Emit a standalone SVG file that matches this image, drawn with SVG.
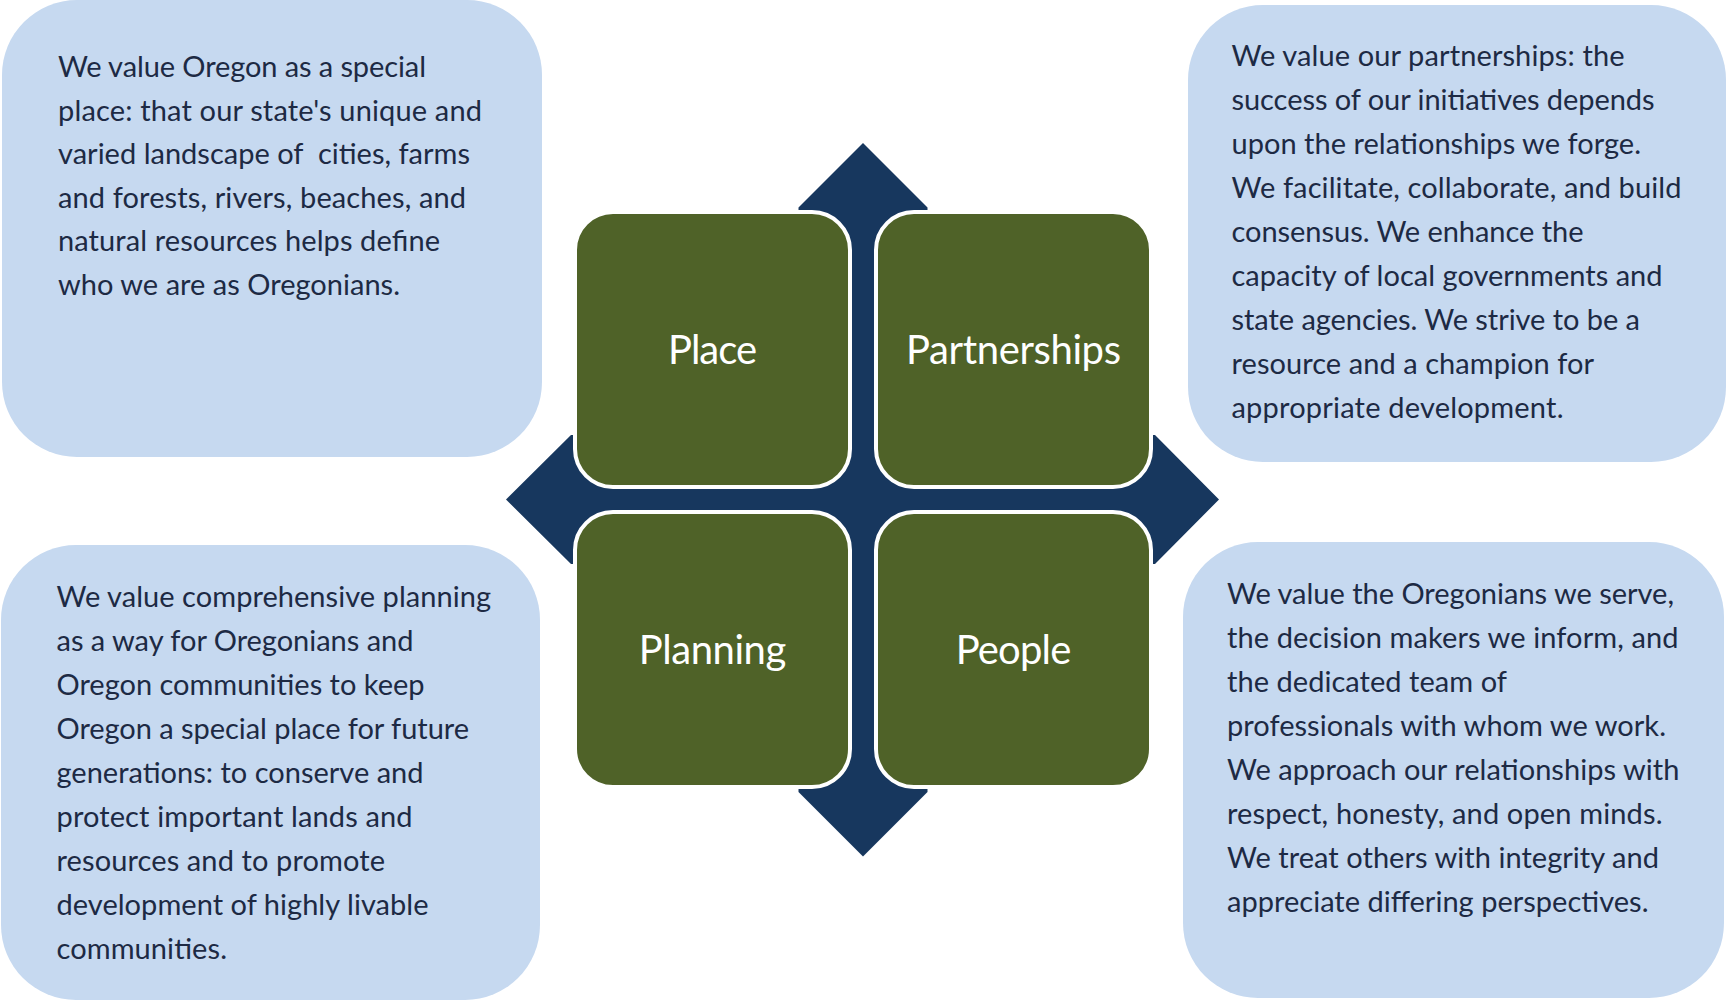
<svg xmlns="http://www.w3.org/2000/svg" width="1727" height="1002" viewBox="0 0 1727 1002">
<style>
.card{fill:#C6D9F0;}
.body{font-family:Lato,"Liberation Sans",sans-serif;font-size:29px;fill:#1d2a44;}
.tile{fill:#4F6228;stroke:#FFFFFF;stroke-width:4;}
.lbl{font-family:Lato,"Liberation Sans",sans-serif;font-size:40px;fill:#FFFFFF;text-anchor:middle;}
</style>
<rect width="1727" height="1002" fill="#FFFFFF"/>
<g id="connectors">
<polygon fill="#17375E" points="863,143 927.5,207.5 927.5,435 1155,435 1219,499.5 1155,564 927.5,564 927.5,792 863,856.5 798.5,792 798.5,564 571,564 506,499.5 571,435 798.5,435 798.5,207.5"/>
</g>
<g id="card-place">
<rect class="card" x="2" y="0" width="540" height="457" rx="75"/>
<text class="body" x="58" y="77" textLength="368">We value Oregon as a special</text>
<text class="body" x="58" y="120.5" textLength="424">place: that our state's unique and</text>
<text class="body" x="58" y="164" textLength="412" xml:space="preserve">varied landscape of  cities, farms</text>
<text class="body" x="58" y="207.5" textLength="408">and forests, rivers, beaches, and</text>
<text class="body" x="58" y="251" textLength="382">natural resources helps define</text>
<text class="body" x="58" y="294.5" textLength="342">who we are as Oregonians.</text>
</g>
<g id="card-partnerships">
<rect class="card" x="1188" y="5" width="538" height="457" rx="75"/>
<text class="body" x="1231.5" y="66" textLength="393">We value our partnerships: the</text>
<text class="body" x="1231.5" y="110" textLength="423">success of our initiatives depends</text>
<text class="body" x="1231.5" y="154" textLength="409.5">upon the relationships we forge.</text>
<text class="body" x="1231.5" y="198" textLength="450">We facilitate, collaborate, and build</text>
<text class="body" x="1231.5" y="242" textLength="352">consensus. We enhance the</text>
<text class="body" x="1231.5" y="286" textLength="431">capacity of local governments and</text>
<text class="body" x="1231.5" y="330" textLength="408.5">state agencies. We strive to be a</text>
<text class="body" x="1231.5" y="374" textLength="362.5">resource and a champion for</text>
<text class="body" x="1231.5" y="418" textLength="332">appropriate development.</text>
</g>
<g id="card-planning">
<rect class="card" x="1" y="545" width="539" height="455" rx="75"/>
<text class="body" x="56.5" y="607" textLength="434.5">We value comprehensive planning</text>
<text class="body" x="56.5" y="651" textLength="357">as a way for Oregonians and</text>
<text class="body" x="56.5" y="695" textLength="368">Oregon communities to keep</text>
<text class="body" x="56.5" y="739" textLength="412.5">Oregon a special place for future</text>
<text class="body" x="56.5" y="783" textLength="367">generations: to conserve and</text>
<text class="body" x="56.5" y="827" textLength="356">protect important lands and</text>
<text class="body" x="56.5" y="871" textLength="328.5">resources and to promote</text>
<text class="body" x="56.5" y="915" textLength="372">development of highly livable</text>
<text class="body" x="56.5" y="959" textLength="170.5">communities.</text>
</g>
<g id="card-people">
<rect class="card" x="1183" y="542" width="541" height="456" rx="75"/>
<text class="body" x="1227" y="604" textLength="447">We value the Oregonians we serve,</text>
<text class="body" x="1227" y="648" textLength="451.5">the decision makers we inform, and</text>
<text class="body" x="1227" y="692" textLength="280">the dedicated team of</text>
<text class="body" x="1227" y="736" textLength="439">professionals with whom we work.</text>
<text class="body" x="1227" y="780" textLength="452.5">We approach our relationships with</text>
<text class="body" x="1227" y="824" textLength="435.5">respect, honesty, and open minds.</text>
<text class="body" x="1227" y="868" textLength="432">We treat others with integrity and</text>
<text class="body" x="1227" y="912" textLength="421.5">appreciate differing perspectives.</text>
</g>
<g id="tile-place">
<rect class="tile" x="575" y="212" width="275" height="275" rx="38"/>
<text class="lbl" x="712.5" y="364" textLength="89">Place</text>
</g>
<g id="tile-partnerships">
<rect class="tile" x="876" y="212" width="275" height="275" rx="38"/>
<text class="lbl" x="1013.5" y="364" textLength="215">Partnerships</text>
</g>
<g id="tile-planning">
<rect class="tile" x="575" y="512" width="275" height="275" rx="38"/>
<text class="lbl" x="712.5" y="664" textLength="147.5">Planning</text>
</g>
<g id="tile-people">
<rect class="tile" x="876" y="512" width="275" height="275" rx="38"/>
<text class="lbl" x="1013.5" y="664" textLength="115.6">People</text>
</g>
</svg>
